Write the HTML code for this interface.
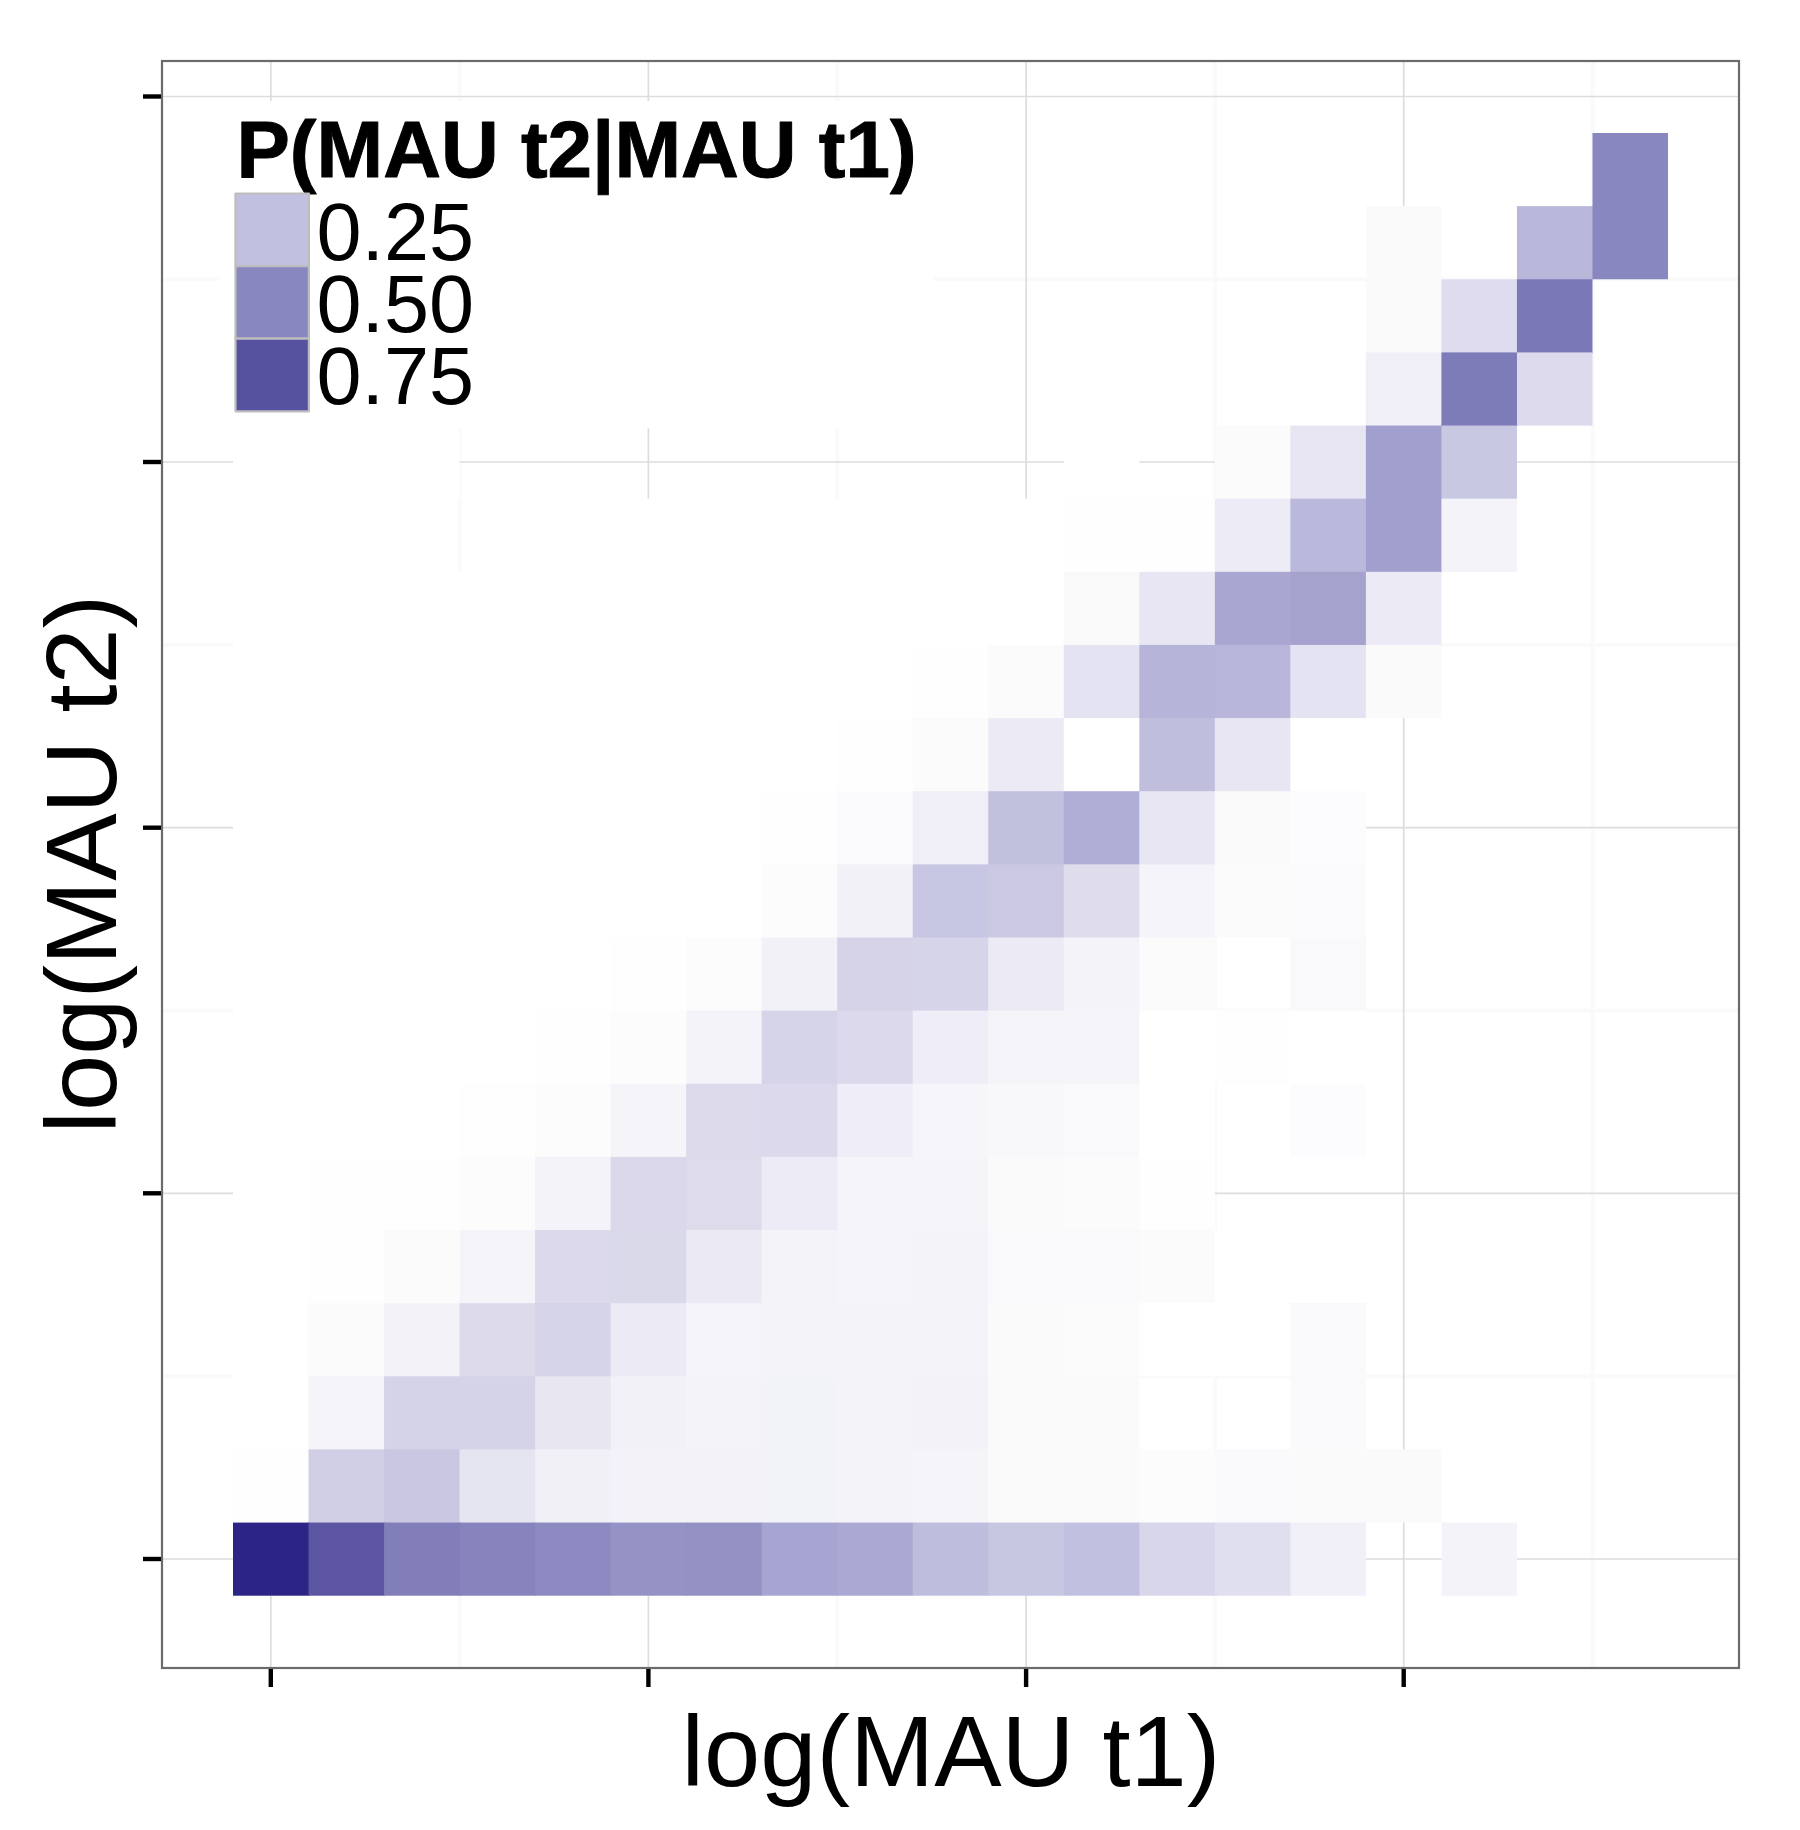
<!DOCTYPE html>
<html><head><meta charset="utf-8"><title>P(MAU t2|MAU t1)</title>
<style>
html,body{margin:0;padding:0;background:#fff;}
body{width:1800px;height:1830px;overflow:hidden;}
svg{display:block;}
text{font-family:"Liberation Sans",Arial,Helvetica,sans-serif;fill:#000;}
</style></head><body>
<svg width="1800" height="1830" viewBox="0 0 1800 1830">
<rect width="1800" height="1830" fill="#fff"/>
<g id="grid">
<line x1="162" x2="1739" y1="279.3" y2="279.3" stroke="#fafafa" stroke-width="4"/>
<line x1="162" x2="1739" y1="644.9" y2="644.9" stroke="#fafafa" stroke-width="4"/>
<line x1="162" x2="1739" y1="1010.5" y2="1010.5" stroke="#fafafa" stroke-width="4"/>
<line x1="162" x2="1739" y1="1376.2" y2="1376.2" stroke="#fafafa" stroke-width="4"/>
<line y1="61" y2="1668" x1="459.6" x2="459.6" stroke="#fafafa" stroke-width="4"/>
<line y1="61" y2="1668" x1="837.2" x2="837.2" stroke="#fafafa" stroke-width="4"/>
<line y1="61" y2="1668" x1="1214.9" x2="1214.9" stroke="#fafafa" stroke-width="4"/>
<line y1="61" y2="1668" x1="1592.5" x2="1592.5" stroke="#fafafa" stroke-width="4"/>
<line x1="162" x2="1739" y1="96.5" y2="96.5" stroke="#dddddd" stroke-width="1.7"/>
<line x1="162" x2="1739" y1="462" y2="462" stroke="#dddddd" stroke-width="1.7"/>
<line x1="162" x2="1739" y1="827.7" y2="827.7" stroke="#dddddd" stroke-width="1.7"/>
<line x1="162" x2="1739" y1="1193.3" y2="1193.3" stroke="#dddddd" stroke-width="1.7"/>
<line x1="162" x2="1739" y1="1559" y2="1559" stroke="#dddddd" stroke-width="1.7"/>
<line y1="61" y2="1668" x1="270.8" x2="270.8" stroke="#dddddd" stroke-width="1.7"/>
<line y1="61" y2="1668" x1="648.4" x2="648.4" stroke="#dddddd" stroke-width="1.7"/>
<line y1="61" y2="1668" x1="1026.1" x2="1026.1" stroke="#dddddd" stroke-width="1.7"/>
<line y1="61" y2="1668" x1="1403.7" x2="1403.7" stroke="#dddddd" stroke-width="1.7"/>
</g>
<g id="tiles">
<rect x="1592.47" y="133" width="75.53" height="74.14" fill="#8987bf"/>
<rect x="1365.89" y="206.13" width="75.53" height="74.14" fill="#fafafa"/>
<rect x="1516.95" y="206.13" width="76.53" height="73.14" fill="#b9b7da"/>
<rect x="1516.95" y="278.27" width="75.53" height="2" fill="#b9b7da"/>
<rect x="1592.47" y="206.13" width="75.53" height="73.14" fill="#8987bf"/>
<rect x="1365.89" y="279.27" width="76.53" height="74.14" fill="#fafafa"/>
<rect x="1441.42" y="279.27" width="76.53" height="74.14" fill="#dedcee"/>
<rect x="1516.95" y="279.27" width="75.53" height="74.14" fill="#7b78b8"/>
<rect x="1365.89" y="352.41" width="76.53" height="74.14" fill="#f0eff7"/>
<rect x="1441.42" y="352.41" width="76.53" height="73.14" fill="#7d7bb8"/>
<rect x="1441.42" y="424.54" width="75.53" height="2" fill="#7d7bb8"/>
<rect x="1516.95" y="352.41" width="75.53" height="73.14" fill="#dcdaec"/>
<rect x="233" y="425.54" width="76.53" height="74.14" fill="#ffffff"/>
<rect x="308.53" y="425.54" width="76.53" height="73.14" fill="#ffffff"/>
<rect x="308.53" y="497.68" width="75.53" height="2" fill="#ffffff"/>
<rect x="384.05" y="425.54" width="75.53" height="73.14" fill="#ffffff"/>
<rect x="1063.79" y="425.54" width="75.53" height="74.14" fill="#ffffff"/>
<rect x="1214.84" y="425.54" width="76.53" height="74.14" fill="#fbfbfb"/>
<rect x="1290.37" y="425.54" width="76.53" height="74.14" fill="#e6e5f1"/>
<rect x="1365.89" y="425.54" width="76.53" height="74.14" fill="#a19fce"/>
<rect x="1441.42" y="425.54" width="75.53" height="74.14" fill="#c9c8e3"/>
<rect x="233" y="498.68" width="76.53" height="74.14" fill="#ffffff"/>
<rect x="308.53" y="498.68" width="75.53" height="74.14" fill="#ffffff"/>
<rect x="535.11" y="498.68" width="76.53" height="74.14" fill="#ffffff"/>
<rect x="610.63" y="498.68" width="76.53" height="74.14" fill="#ffffff"/>
<rect x="686.16" y="498.68" width="76.53" height="74.14" fill="#ffffff"/>
<rect x="761.68" y="498.68" width="76.53" height="74.14" fill="#ffffff"/>
<rect x="837.21" y="498.68" width="76.53" height="74.14" fill="#ffffff"/>
<rect x="912.74" y="498.68" width="76.53" height="74.14" fill="#ffffff"/>
<rect x="988.26" y="498.68" width="76.53" height="74.14" fill="#ffffff"/>
<rect x="1063.79" y="498.68" width="76.53" height="74.14" fill="#fefefe"/>
<rect x="1139.32" y="498.68" width="76.53" height="74.14" fill="#fefefe"/>
<rect x="1214.84" y="498.68" width="76.53" height="74.14" fill="#ecebf6"/>
<rect x="1290.37" y="498.68" width="76.53" height="74.14" fill="#bbb9db"/>
<rect x="1365.89" y="498.68" width="76.53" height="73.14" fill="#a19fce"/>
<rect x="1365.89" y="570.81" width="75.53" height="2" fill="#a19fce"/>
<rect x="1441.42" y="498.68" width="75.53" height="73.14" fill="#f4f3f9"/>
<rect x="233" y="571.81" width="76.53" height="74.14" fill="#ffffff"/>
<rect x="308.53" y="571.81" width="76.53" height="74.14" fill="#ffffff"/>
<rect x="384.05" y="571.81" width="76.53" height="74.14" fill="#ffffff"/>
<rect x="459.58" y="571.81" width="76.53" height="74.14" fill="#ffffff"/>
<rect x="535.11" y="571.81" width="76.53" height="74.14" fill="#ffffff"/>
<rect x="610.63" y="571.81" width="76.53" height="74.14" fill="#ffffff"/>
<rect x="686.16" y="571.81" width="76.53" height="74.14" fill="#ffffff"/>
<rect x="761.68" y="571.81" width="76.53" height="74.14" fill="#ffffff"/>
<rect x="837.21" y="571.81" width="76.53" height="74.14" fill="#ffffff"/>
<rect x="912.74" y="571.81" width="76.53" height="74.14" fill="#ffffff"/>
<rect x="988.26" y="571.81" width="76.53" height="74.14" fill="#ffffff"/>
<rect x="1063.79" y="571.81" width="76.53" height="74.14" fill="#f9f9fa"/>
<rect x="1139.32" y="571.81" width="76.53" height="74.14" fill="#e7e6f2"/>
<rect x="1214.84" y="571.81" width="76.53" height="74.14" fill="#a9a7d1"/>
<rect x="1290.37" y="571.81" width="76.53" height="74.14" fill="#a5a2ce"/>
<rect x="1365.89" y="571.81" width="75.53" height="74.14" fill="#ebeaf5"/>
<rect x="233" y="644.95" width="76.53" height="74.14" fill="#ffffff"/>
<rect x="308.53" y="644.95" width="76.53" height="74.14" fill="#ffffff"/>
<rect x="384.05" y="644.95" width="76.53" height="74.14" fill="#ffffff"/>
<rect x="459.58" y="644.95" width="76.53" height="74.14" fill="#ffffff"/>
<rect x="535.11" y="644.95" width="76.53" height="74.14" fill="#ffffff"/>
<rect x="610.63" y="644.95" width="76.53" height="74.14" fill="#ffffff"/>
<rect x="686.16" y="644.95" width="76.53" height="74.14" fill="#ffffff"/>
<rect x="761.68" y="644.95" width="76.53" height="74.14" fill="#ffffff"/>
<rect x="837.21" y="644.95" width="76.53" height="74.14" fill="#ffffff"/>
<rect x="912.74" y="644.95" width="76.53" height="74.14" fill="#fefefe"/>
<rect x="988.26" y="644.95" width="76.53" height="74.14" fill="#fbfbfb"/>
<rect x="1063.79" y="644.95" width="76.53" height="74.14" fill="#e4e3f1"/>
<rect x="1139.32" y="644.95" width="76.53" height="74.14" fill="#b6b4d8"/>
<rect x="1214.84" y="644.95" width="76.53" height="74.14" fill="#b8b6da"/>
<rect x="1290.37" y="644.95" width="76.53" height="73.14" fill="#e4e3f1"/>
<rect x="1290.37" y="717.08" width="75.53" height="2" fill="#e4e3f1"/>
<rect x="1365.89" y="644.95" width="75.53" height="73.14" fill="#fafafb"/>
<rect x="233" y="718.08" width="76.53" height="74.14" fill="#ffffff"/>
<rect x="308.53" y="718.08" width="76.53" height="74.14" fill="#ffffff"/>
<rect x="384.05" y="718.08" width="76.53" height="74.14" fill="#ffffff"/>
<rect x="459.58" y="718.08" width="76.53" height="74.14" fill="#ffffff"/>
<rect x="535.11" y="718.08" width="76.53" height="74.14" fill="#ffffff"/>
<rect x="610.63" y="718.08" width="76.53" height="74.14" fill="#ffffff"/>
<rect x="686.16" y="718.08" width="76.53" height="74.14" fill="#ffffff"/>
<rect x="761.68" y="718.08" width="76.53" height="74.14" fill="#ffffff"/>
<rect x="837.21" y="718.08" width="76.53" height="74.14" fill="#fefefe"/>
<rect x="912.74" y="718.08" width="76.53" height="74.14" fill="#fbfbfb"/>
<rect x="988.26" y="718.08" width="76.53" height="74.14" fill="#ecebf5"/>
<rect x="1063.79" y="718.08" width="76.53" height="74.14" fill="#ffffff"/>
<rect x="1139.32" y="718.08" width="76.53" height="74.14" fill="#c0bedd"/>
<rect x="1214.84" y="718.08" width="76.53" height="74.14" fill="#e7e6f2"/>
<rect x="1290.37" y="718.08" width="75.53" height="74.14" fill="#ffffff"/>
<rect x="233" y="791.22" width="76.53" height="74.14" fill="#ffffff"/>
<rect x="308.53" y="791.22" width="76.53" height="74.14" fill="#ffffff"/>
<rect x="384.05" y="791.22" width="76.53" height="74.14" fill="#ffffff"/>
<rect x="459.58" y="791.22" width="76.53" height="74.14" fill="#ffffff"/>
<rect x="535.11" y="791.22" width="76.53" height="74.14" fill="#ffffff"/>
<rect x="610.63" y="791.22" width="76.53" height="74.14" fill="#ffffff"/>
<rect x="686.16" y="791.22" width="76.53" height="74.14" fill="#ffffff"/>
<rect x="761.68" y="791.22" width="76.53" height="74.14" fill="#fefefe"/>
<rect x="837.21" y="791.22" width="76.53" height="74.14" fill="#fbfbfd"/>
<rect x="912.74" y="791.22" width="76.53" height="74.14" fill="#f0eff7"/>
<rect x="988.26" y="791.22" width="76.53" height="74.14" fill="#c1c0dd"/>
<rect x="1063.79" y="791.22" width="76.53" height="74.14" fill="#afaed6"/>
<rect x="1139.32" y="791.22" width="76.53" height="74.14" fill="#e7e6f2"/>
<rect x="1214.84" y="791.22" width="76.53" height="74.14" fill="#fafafa"/>
<rect x="1290.37" y="791.22" width="75.53" height="74.14" fill="#fcfcfe"/>
<rect x="233" y="864.35" width="76.53" height="74.14" fill="#ffffff"/>
<rect x="308.53" y="864.35" width="76.53" height="74.14" fill="#ffffff"/>
<rect x="384.05" y="864.35" width="76.53" height="74.14" fill="#ffffff"/>
<rect x="459.58" y="864.35" width="76.53" height="74.14" fill="#ffffff"/>
<rect x="535.11" y="864.35" width="76.53" height="74.14" fill="#ffffff"/>
<rect x="610.63" y="864.35" width="76.53" height="74.14" fill="#ffffff"/>
<rect x="686.16" y="864.35" width="76.53" height="74.14" fill="#ffffff"/>
<rect x="761.68" y="864.35" width="76.53" height="74.14" fill="#fcfcfc"/>
<rect x="837.21" y="864.35" width="76.53" height="74.14" fill="#f2f1f8"/>
<rect x="912.74" y="864.35" width="76.53" height="74.14" fill="#c8c7e3"/>
<rect x="988.26" y="864.35" width="76.53" height="74.14" fill="#cac9e1"/>
<rect x="1063.79" y="864.35" width="76.53" height="74.14" fill="#dfddec"/>
<rect x="1139.32" y="864.35" width="76.53" height="73.14" fill="#f5f4fa"/>
<rect x="1139.32" y="936.49" width="75.53" height="2" fill="#f5f4fa"/>
<rect x="1214.84" y="864.35" width="76.53" height="73.14" fill="#fbfbfc"/>
<rect x="1290.37" y="864.35" width="75.53" height="74.14" fill="#fbfbfd"/>
<rect x="233" y="937.49" width="76.53" height="74.14" fill="#ffffff"/>
<rect x="308.53" y="937.49" width="76.53" height="74.14" fill="#ffffff"/>
<rect x="384.05" y="937.49" width="76.53" height="74.14" fill="#ffffff"/>
<rect x="459.58" y="937.49" width="76.53" height="74.14" fill="#ffffff"/>
<rect x="535.11" y="937.49" width="76.53" height="74.14" fill="#ffffff"/>
<rect x="610.63" y="937.49" width="76.53" height="74.14" fill="#fefefe"/>
<rect x="686.16" y="937.49" width="76.53" height="74.14" fill="#fcfcfc"/>
<rect x="761.68" y="937.49" width="76.53" height="74.14" fill="#f2f1f8"/>
<rect x="837.21" y="937.49" width="76.53" height="74.14" fill="#d6d3e8"/>
<rect x="912.74" y="937.49" width="76.53" height="74.14" fill="#d6d4e8"/>
<rect x="988.26" y="937.49" width="76.53" height="74.14" fill="#ecebf5"/>
<rect x="1063.79" y="937.49" width="76.53" height="74.14" fill="#f4f3f9"/>
<rect x="1139.32" y="937.49" width="75.53" height="74.14" fill="#fbfbfc"/>
<rect x="1290.37" y="937.49" width="75.53" height="74.14" fill="#f9f9fb"/>
<rect x="233" y="1010.62" width="76.53" height="74.14" fill="#ffffff"/>
<rect x="308.53" y="1010.62" width="76.53" height="74.14" fill="#ffffff"/>
<rect x="384.05" y="1010.62" width="76.53" height="74.14" fill="#ffffff"/>
<rect x="459.58" y="1010.62" width="76.53" height="74.14" fill="#ffffff"/>
<rect x="535.11" y="1010.62" width="76.53" height="74.14" fill="#fefefe"/>
<rect x="610.63" y="1010.62" width="76.53" height="74.14" fill="#fcfcfc"/>
<rect x="686.16" y="1010.62" width="76.53" height="74.14" fill="#f3f3f9"/>
<rect x="761.68" y="1010.62" width="76.53" height="74.14" fill="#d6d4e9"/>
<rect x="837.21" y="1010.62" width="76.53" height="74.14" fill="#dbd9eb"/>
<rect x="912.74" y="1010.62" width="76.53" height="74.14" fill="#efedf7"/>
<rect x="988.26" y="1010.62" width="76.53" height="74.14" fill="#f5f4f9"/>
<rect x="1063.79" y="1010.62" width="76.53" height="74.14" fill="#f5f4f9"/>
<rect x="1139.32" y="1010.62" width="76.53" height="73.14" fill="#ffffff"/>
<rect x="1139.32" y="1082.76" width="75.53" height="2" fill="#ffffff"/>
<rect x="1214.84" y="1010.62" width="76.53" height="73.14" fill="#fefefe"/>
<rect x="1290.37" y="1010.62" width="75.53" height="74.14" fill="#ffffff"/>
<rect x="233" y="1083.76" width="76.53" height="74.14" fill="#ffffff"/>
<rect x="308.53" y="1083.76" width="76.53" height="74.14" fill="#ffffff"/>
<rect x="384.05" y="1083.76" width="76.53" height="74.14" fill="#ffffff"/>
<rect x="459.58" y="1083.76" width="76.53" height="74.14" fill="#fefefe"/>
<rect x="535.11" y="1083.76" width="76.53" height="74.14" fill="#fcfcfc"/>
<rect x="610.63" y="1083.76" width="76.53" height="74.14" fill="#f5f4f9"/>
<rect x="686.16" y="1083.76" width="76.53" height="74.14" fill="#dcdaeb"/>
<rect x="761.68" y="1083.76" width="76.53" height="74.14" fill="#dbd9eb"/>
<rect x="837.21" y="1083.76" width="76.53" height="74.14" fill="#efedf7"/>
<rect x="912.74" y="1083.76" width="76.53" height="74.14" fill="#f6f5fa"/>
<rect x="988.26" y="1083.76" width="76.53" height="74.14" fill="#f8f8fb"/>
<rect x="1063.79" y="1083.76" width="76.53" height="74.14" fill="#f9f9fb"/>
<rect x="1139.32" y="1083.76" width="75.53" height="74.14" fill="#ffffff"/>
<rect x="1290.37" y="1083.76" width="75.53" height="73.14" fill="#fcfcfe"/>
<rect x="233" y="1156.89" width="76.53" height="74.14" fill="#ffffff"/>
<rect x="308.53" y="1156.89" width="76.53" height="74.14" fill="#fefefe"/>
<rect x="384.05" y="1156.89" width="76.53" height="74.14" fill="#fefefe"/>
<rect x="459.58" y="1156.89" width="76.53" height="74.14" fill="#fcfcfd"/>
<rect x="535.11" y="1156.89" width="76.53" height="74.14" fill="#f4f3f9"/>
<rect x="610.63" y="1156.89" width="76.53" height="74.14" fill="#dad8ea"/>
<rect x="686.16" y="1156.89" width="76.53" height="74.14" fill="#dedceb"/>
<rect x="761.68" y="1156.89" width="76.53" height="74.14" fill="#edecf6"/>
<rect x="837.21" y="1156.89" width="76.53" height="74.14" fill="#f5f4fa"/>
<rect x="912.74" y="1156.89" width="76.53" height="74.14" fill="#f5f4f9"/>
<rect x="988.26" y="1156.89" width="76.53" height="74.14" fill="#fafafa"/>
<rect x="1063.79" y="1156.89" width="76.53" height="74.14" fill="#fbfbfb"/>
<rect x="1139.32" y="1156.89" width="75.53" height="74.14" fill="#fefefe"/>
<rect x="233" y="1230.03" width="76.53" height="74.14" fill="#ffffff"/>
<rect x="308.53" y="1230.03" width="76.53" height="74.14" fill="#fefefe"/>
<rect x="384.05" y="1230.03" width="76.53" height="74.14" fill="#fbfbfc"/>
<rect x="459.58" y="1230.03" width="76.53" height="74.14" fill="#f5f4f9"/>
<rect x="535.11" y="1230.03" width="76.53" height="74.14" fill="#dbd9eb"/>
<rect x="610.63" y="1230.03" width="76.53" height="74.14" fill="#dad9ea"/>
<rect x="686.16" y="1230.03" width="76.53" height="74.14" fill="#ebeaf4"/>
<rect x="761.68" y="1230.03" width="76.53" height="74.14" fill="#f4f3f9"/>
<rect x="837.21" y="1230.03" width="76.53" height="74.14" fill="#f5f4fa"/>
<rect x="912.74" y="1230.03" width="76.53" height="74.14" fill="#f4f3f9"/>
<rect x="988.26" y="1230.03" width="76.53" height="74.14" fill="#f9f9fb"/>
<rect x="1063.79" y="1230.03" width="76.53" height="74.14" fill="#f9f9fb"/>
<rect x="1139.32" y="1230.03" width="76.53" height="74.14" fill="#fbfbfc"/>
<rect x="1214.84" y="1230.03" width="75.53" height="74.14" fill="#ffffff"/>
<rect x="233" y="1303.16" width="76.53" height="74.14" fill="#ffffff"/>
<rect x="308.53" y="1303.16" width="76.53" height="74.14" fill="#fbfbfc"/>
<rect x="384.05" y="1303.16" width="76.53" height="74.14" fill="#f2f2f8"/>
<rect x="459.58" y="1303.16" width="76.53" height="74.14" fill="#dddbeb"/>
<rect x="535.11" y="1303.16" width="76.53" height="74.14" fill="#d6d4e8"/>
<rect x="610.63" y="1303.16" width="76.53" height="74.14" fill="#eceaf4"/>
<rect x="686.16" y="1303.16" width="76.53" height="74.14" fill="#f5f4f9"/>
<rect x="761.68" y="1303.16" width="76.53" height="74.14" fill="#f4f3f9"/>
<rect x="837.21" y="1303.16" width="76.53" height="74.14" fill="#f3f3f8"/>
<rect x="912.74" y="1303.16" width="76.53" height="74.14" fill="#f4f3f9"/>
<rect x="988.26" y="1303.16" width="76.53" height="74.14" fill="#fafafa"/>
<rect x="1063.79" y="1303.16" width="76.53" height="73.14" fill="#fbfbfb"/>
<rect x="1063.79" y="1375.3" width="75.53" height="2" fill="#fbfbfb"/>
<rect x="1139.32" y="1303.16" width="76.53" height="73.14" fill="#ffffff"/>
<rect x="1214.84" y="1303.16" width="76.53" height="73.14" fill="#ffffff"/>
<rect x="1290.37" y="1303.16" width="75.53" height="74.14" fill="#fafafc"/>
<rect x="233" y="1376.3" width="76.53" height="74.14" fill="#ffffff"/>
<rect x="308.53" y="1376.3" width="76.53" height="74.14" fill="#f5f4f9"/>
<rect x="384.05" y="1376.3" width="76.53" height="74.14" fill="#d5d3e7"/>
<rect x="459.58" y="1376.3" width="76.53" height="74.14" fill="#d5d3e7"/>
<rect x="535.11" y="1376.3" width="76.53" height="74.14" fill="#e7e6f1"/>
<rect x="610.63" y="1376.3" width="76.53" height="74.14" fill="#f1f1f7"/>
<rect x="686.16" y="1376.3" width="76.53" height="74.14" fill="#f4f3f9"/>
<rect x="761.68" y="1376.3" width="76.53" height="74.14" fill="#f2f3f8"/>
<rect x="837.21" y="1376.3" width="76.53" height="74.14" fill="#f4f3f9"/>
<rect x="912.74" y="1376.3" width="76.53" height="74.14" fill="#f3f2f8"/>
<rect x="988.26" y="1376.3" width="76.53" height="74.14" fill="#fafafa"/>
<rect x="1063.79" y="1376.3" width="75.53" height="74.14" fill="#fafafa"/>
<rect x="1290.37" y="1376.3" width="75.53" height="74.14" fill="#fafafc"/>
<rect x="233" y="1449.43" width="76.53" height="74.14" fill="#fefefe"/>
<rect x="308.53" y="1449.43" width="76.53" height="74.14" fill="#d1cfe5"/>
<rect x="384.05" y="1449.43" width="76.53" height="74.14" fill="#c9c7e2"/>
<rect x="459.58" y="1449.43" width="76.53" height="74.14" fill="#e5e4f1"/>
<rect x="535.11" y="1449.43" width="76.53" height="74.14" fill="#f1f0f7"/>
<rect x="610.63" y="1449.43" width="76.53" height="74.14" fill="#f2f2f8"/>
<rect x="686.16" y="1449.43" width="76.53" height="74.14" fill="#f2f2f8"/>
<rect x="761.68" y="1449.43" width="76.53" height="74.14" fill="#f2f3f8"/>
<rect x="837.21" y="1449.43" width="76.53" height="74.14" fill="#f4f3f9"/>
<rect x="912.74" y="1449.43" width="76.53" height="74.14" fill="#f5f4f9"/>
<rect x="988.26" y="1449.43" width="76.53" height="74.14" fill="#fafafa"/>
<rect x="1063.79" y="1449.43" width="76.53" height="74.14" fill="#fafafb"/>
<rect x="1139.32" y="1449.43" width="76.53" height="74.14" fill="#fcfcfd"/>
<rect x="1214.84" y="1449.43" width="76.53" height="74.14" fill="#fafafc"/>
<rect x="1290.37" y="1449.43" width="76.53" height="73.14" fill="#fafafb"/>
<rect x="1290.37" y="1521.57" width="75.53" height="2" fill="#fafafb"/>
<rect x="1365.89" y="1449.43" width="75.53" height="73.14" fill="#fafafa"/>
<rect x="233" y="1522.57" width="76.53" height="73.14" fill="#2d2585"/>
<rect x="308.53" y="1522.57" width="76.53" height="73.14" fill="#5b55a2"/>
<rect x="384.05" y="1522.57" width="76.53" height="73.14" fill="#817eb9"/>
<rect x="459.58" y="1522.57" width="76.53" height="73.14" fill="#8683bd"/>
<rect x="535.11" y="1522.57" width="76.53" height="73.14" fill="#8d8ac1"/>
<rect x="610.63" y="1522.57" width="76.53" height="73.14" fill="#9592c5"/>
<rect x="686.16" y="1522.57" width="76.53" height="73.14" fill="#9491c4"/>
<rect x="761.68" y="1522.57" width="76.53" height="73.14" fill="#a6a4d0"/>
<rect x="837.21" y="1522.57" width="76.53" height="73.14" fill="#aba9d3"/>
<rect x="912.74" y="1522.57" width="76.53" height="73.14" fill="#bfbddd"/>
<rect x="988.26" y="1522.57" width="76.53" height="73.14" fill="#c8c7e2"/>
<rect x="1063.79" y="1522.57" width="76.53" height="73.14" fill="#c2c0e0"/>
<rect x="1139.32" y="1522.57" width="76.53" height="73.14" fill="#d8d6ea"/>
<rect x="1214.84" y="1522.57" width="76.53" height="73.14" fill="#e0dff0"/>
<rect x="1290.37" y="1522.57" width="75.53" height="73.14" fill="#f1f0f8"/>
<rect x="1441.42" y="1522.57" width="75.53" height="73.14" fill="#f4f3f9"/>
</g>
<rect x="162" y="61" width="1577" height="1607" fill="none" stroke="#6b6b6b" stroke-width="2.2"/>
<g id="ticks">
<line x1="143" x2="161" y1="96.5" y2="96.5" stroke="#000" stroke-width="4.4"/>
<line x1="143" x2="161" y1="462" y2="462" stroke="#000" stroke-width="4.4"/>
<line x1="143" x2="161" y1="827.7" y2="827.7" stroke="#000" stroke-width="4.4"/>
<line x1="143" x2="161" y1="1193.3" y2="1193.3" stroke="#000" stroke-width="4.4"/>
<line x1="143" x2="161" y1="1559" y2="1559" stroke="#000" stroke-width="4.4"/>
<line y1="1669" y2="1687" x1="270.8" x2="270.8" stroke="#000" stroke-width="4.4"/>
<line y1="1669" y2="1687" x1="648.4" x2="648.4" stroke="#000" stroke-width="4.4"/>
<line y1="1669" y2="1687" x1="1026.1" x2="1026.1" stroke="#000" stroke-width="4.4"/>
<line y1="1669" y2="1687" x1="1403.7" x2="1403.7" stroke="#000" stroke-width="4.4"/>
</g>
<g id="legend">
<rect x="219" y="101" width="715" height="327.5" fill="#fff"/>
<text x="236.5" y="177" font-size="80" font-weight="bold" stroke="#000" stroke-width="1" stroke-linejoin="round">P(MAU t2|MAU t1)</text>
<rect x="235.5" y="193.5" width="73.4" height="72.6" fill="#c2c0e0" stroke="#bdbdbd" stroke-width="2.2" stroke-linejoin="round"/>
<rect x="235.5" y="266.1" width="73.4" height="72.6" fill="#8987c0" stroke="#bdbdbd" stroke-width="2.2" stroke-linejoin="round"/>
<rect x="235.5" y="338.7" width="73.4" height="72.6" fill="#5752a0" stroke="#bdbdbd" stroke-width="2.2" stroke-linejoin="round"/>
<text x="316.5" y="260" font-size="81">0.25</text>
<text x="316.5" y="332" font-size="81">0.50</text>
<text x="316.5" y="404" font-size="81">0.75</text>
</g>
<text x="951" y="1786" font-size="101" text-anchor="middle">log(MAU t1)</text>
<text transform="translate(116,864) rotate(-90)" font-size="101" text-anchor="middle">log(MAU t2)</text>
</svg>
</body></html>
